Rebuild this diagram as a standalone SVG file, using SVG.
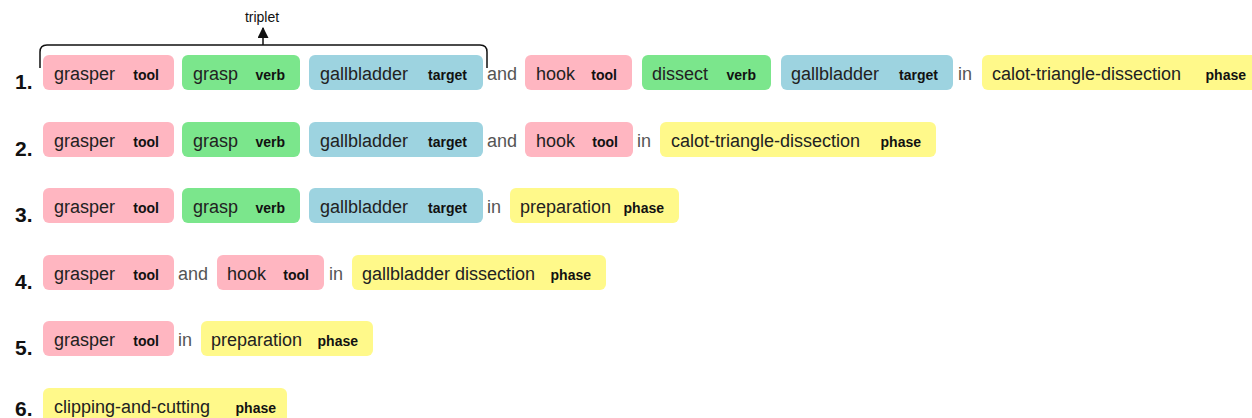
<svg xmlns="http://www.w3.org/2000/svg" width="1252" height="418" viewBox="0 0 1252 418">
<style>
  .box{stroke:none}
  .tool{fill:#FFB6C1}
  .verb{fill:#7BE68C}
  .target{fill:#9DD3E0}
  .phase{fill:#FFF98A}
  .m{font-family:"Liberation Sans",Arial,sans-serif;font-size:18px;fill:#222}
  .l{font-family:"Liberation Sans",Arial,sans-serif;font-size:14px;font-weight:bold;fill:#111;text-anchor:end}
  .w{font-family:"Liberation Sans",Arial,sans-serif;font-size:18px;fill:#555}
  .n{font-family:"Liberation Sans",Arial,sans-serif;font-size:21px;font-weight:bold;fill:#111}
  .cap{font-family:"Liberation Sans",Arial,sans-serif;font-size:14px;fill:#111;text-anchor:middle}
  .conn{fill:none;stroke:#111;stroke-width:1.5}
</style>
<defs>
  <marker id="arr" viewBox="0 0 10 10" refX="9" refY="5" markerWidth="11" markerHeight="11" markerUnits="userSpaceOnUse" orient="auto">
    <path d="M0,0 L10,5 L0,10 z" fill="#111"/>
  </marker>
</defs>
<rect width="1252" height="418" fill="#fff"/>

<g id="numbers">
  <text class="n" x="15" y="89">1.</text>
  <text class="n" x="15" y="156">2.</text>
  <text class="n" x="15" y="222">3.</text>
  <text class="n" x="15" y="289">4.</text>
  <text class="n" x="15" y="355">5.</text>
  <text class="n" x="15" y="416">6.</text>
</g>

<g id="connectors">
  <path class="conn" d="M40,68 L40,52 Q40,45 47,45 L480,45 Q487,45 487,52 L487,68"/>
  <line class="conn" x1="263" y1="45" x2="263" y2="28" marker-end="url(#arr)"/>
  <text class="cap" x="262" y="22">triplet</text>
</g>

<g id="words">
  <text class="w" x="487" y="80">and</text>
  <text class="w" x="958" y="80">in</text>
  <text class="w" x="487" y="147">and</text>
  <text class="w" x="637" y="147">in</text>
  <text class="w" x="487" y="213">in</text>
  <text class="w" x="178" y="280">and</text>
  <text class="w" x="329" y="280">in</text>
  <text class="w" x="178" y="346">in</text>
</g>

<!-- Row 1 -->
<g id="r1-grasper"><rect class="box tool" x="43" y="55" width="131" height="35" rx="6"/><text class="m" x="54" y="80">grasper</text><text class="l" x="159" y="80">tool</text></g>
<g id="r1-grasp"><rect class="box verb" x="182" y="55" width="118" height="35" rx="6"/><text class="m" x="193" y="80">grasp</text><text class="l" x="285" y="80">verb</text></g>
<g id="r1-gallbladder"><rect class="box target" x="309" y="55" width="174" height="35" rx="6"/><text class="m" x="320" y="80">gallbladder</text><text class="l" x="467" y="80">target</text></g>
<g id="r1-hook"><rect class="box tool" x="525" y="55" width="107" height="35" rx="6"/><text class="m" x="536" y="80">hook</text><text class="l" x="617" y="80">tool</text></g>
<g id="r1-dissect"><rect class="box verb" x="642" y="55" width="129" height="35" rx="6"/><text class="m" x="652" y="80">dissect</text><text class="l" x="756" y="80">verb</text></g>
<g id="r1-gallbladder2"><rect class="box target" x="781" y="55" width="172" height="35" rx="6"/><text class="m" x="791" y="80">gallbladder</text><text class="l" x="938" y="80">target</text></g>
<g id="r1-calot"><rect class="box phase" x="982" y="55" width="280" height="35" rx="6"/><text class="m" x="992" y="80">calot-triangle-dissection</text><text class="l" x="1246" y="80">phase</text></g>

<!-- Row 2 -->
<g id="r2-grasper"><rect class="box tool" x="43" y="122" width="131" height="35" rx="6"/><text class="m" x="54" y="147">grasper</text><text class="l" x="159" y="147">tool</text></g>
<g id="r2-grasp"><rect class="box verb" x="182" y="122" width="118" height="35" rx="6"/><text class="m" x="193" y="147">grasp</text><text class="l" x="285" y="147">verb</text></g>
<g id="r2-gallbladder"><rect class="box target" x="309" y="122" width="174" height="35" rx="6"/><text class="m" x="320" y="147">gallbladder</text><text class="l" x="467" y="147">target</text></g>
<g id="r2-hook"><rect class="box tool" x="525" y="122" width="108" height="35" rx="6"/><text class="m" x="536" y="147">hook</text><text class="l" x="618" y="147">tool</text></g>
<g id="r2-calot"><rect class="box phase" x="660" y="122" width="276" height="35" rx="6"/><text class="m" x="671" y="147">calot-triangle-dissection</text><text class="l" x="921" y="147">phase</text></g>

<!-- Row 3 -->
<g id="r3-grasper"><rect class="box tool" x="43" y="188" width="131" height="35" rx="6"/><text class="m" x="54" y="213">grasper</text><text class="l" x="159" y="213">tool</text></g>
<g id="r3-grasp"><rect class="box verb" x="182" y="188" width="118" height="35" rx="6"/><text class="m" x="193" y="213">grasp</text><text class="l" x="285" y="213">verb</text></g>
<g id="r3-gallbladder"><rect class="box target" x="309" y="188" width="174" height="35" rx="6"/><text class="m" x="320" y="213">gallbladder</text><text class="l" x="467" y="213">target</text></g>
<g id="r3-preparation"><rect class="box phase" x="510" y="188" width="169" height="35" rx="6"/><text class="m" x="520" y="213">preparation</text><text class="l" x="664" y="213">phase</text></g>

<!-- Row 4 -->
<g id="r4-grasper"><rect class="box tool" x="43" y="255" width="131" height="35" rx="6"/><text class="m" x="54" y="280">grasper</text><text class="l" x="159" y="280">tool</text></g>
<g id="r4-hook"><rect class="box tool" x="217" y="255" width="107" height="35" rx="6"/><text class="m" x="227" y="280">hook</text><text class="l" x="309" y="280">tool</text></g>
<g id="r4-gallbladder-dissection"><rect class="box phase" x="352" y="255" width="254" height="35" rx="6"/><text class="m" x="362" y="280">gallbladder dissection</text><text class="l" x="591" y="280">phase</text></g>

<!-- Row 5 -->
<g id="r5-grasper"><rect class="box tool" x="43" y="321" width="131" height="35" rx="6"/><text class="m" x="54" y="346">grasper</text><text class="l" x="159" y="346">tool</text></g>
<g id="r5-preparation"><rect class="box phase" x="201" y="321" width="172" height="35" rx="6"/><text class="m" x="211" y="346">preparation</text><text class="l" x="358" y="346">phase</text></g>

<!-- Row 6 -->
<g id="r6-clipping"><rect class="box phase" x="43" y="388" width="244" height="35" rx="6"/><text class="m" x="54" y="413">clipping-and-cutting</text><text class="l" x="276" y="413">phase</text></g>
</svg>
